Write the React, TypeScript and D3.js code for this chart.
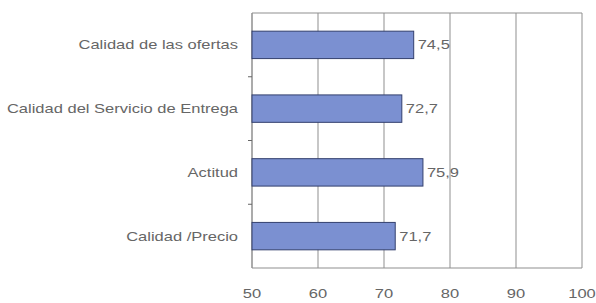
import React from "react";
import * as d3 from "d3";

const categories = [
  "Calidad de las ofertas",
  "Calidad del Servicio de Entrega",
  "Actitud",
  "Calidad /Precio",
];
const values = [74.5, 72.7, 75.9, 71.7];
const xTicks = [50, 60, 70, 80, 90, 100];

export default function App() {
  const W = 596, H = 303;
  const left = 252, right = 582, top = 13, bottom = 268;
  const x = d3.scaleLinear().domain([50, 100]).range([left, right]);
  const y = d3.scaleBand<string>().domain(categories).range([top, bottom]).paddingInner(0.57).paddingOuter(0.285);
  const fmt = (v: number) => v.toFixed(1).replace(".", ",");
  const font = "Liberation Sans, Arial, sans-serif";
  const fs = 13;
  const sx = 1.27;
  const col = "#666";
  const boundaries = categories.slice(1).map((c) => (y(c)! - y.step() * y.paddingInner() / 2));
  const T = (props: { x: number; y: number; anchor?: string; children: React.ReactNode }) => (
    <text
      transform={`translate(${props.x},${props.y}) scale(${sx},1)`}
      dy="0.35em"
      textAnchor={props.anchor || "start"}
      fontFamily={font}
      fontSize={fs}
      fill={col}
    >
      {props.children}
    </text>
  );
  return (
    <svg width={W} height={H} style={{ position: "absolute", left: 0, top: 0 }}>
      <rect x={0} y={0} width={W} height={H} fill="#fff" />
      {xTicks.map((t) => (
        <line key={t} x1={x(t)} x2={x(t)} y1={top} y2={bottom} stroke="#8f8f8f" strokeWidth={1} />
      ))}
      <line x1={left} x2={right} y1={top} y2={top} stroke="#8f8f8f" />
      <line x1={left} x2={right} y1={bottom} y2={bottom} stroke="#8f8f8f" />
      <line x1={left} x2={left} y1={top} y2={bottom} stroke="#8f8f8f" />
      {boundaries.map((b, i) => (
        <line key={i} x1={left - 4} x2={left} y1={b} y2={b} stroke="#666" />
      ))}
      {categories.map((c, i) => (
        <g key={c}>
          <rect x={x(50)} y={y(c)!} width={x(values[i]) - x(50)} height={y.bandwidth()} fill="#7b90d1" stroke="#34406e" strokeWidth={1} />
          <T x={x(values[i]) + 4} y={y(c)! + y.bandwidth() / 2}>{fmt(values[i])}</T>
          <T x={238} y={y(c)! + y.bandwidth() / 2} anchor="end">{c}</T>
        </g>
      ))}
      {xTicks.map((t) => (
        <T key={t} x={x(t)} y={293} anchor="middle">{t}</T>
      ))}
    </svg>
  );
}
